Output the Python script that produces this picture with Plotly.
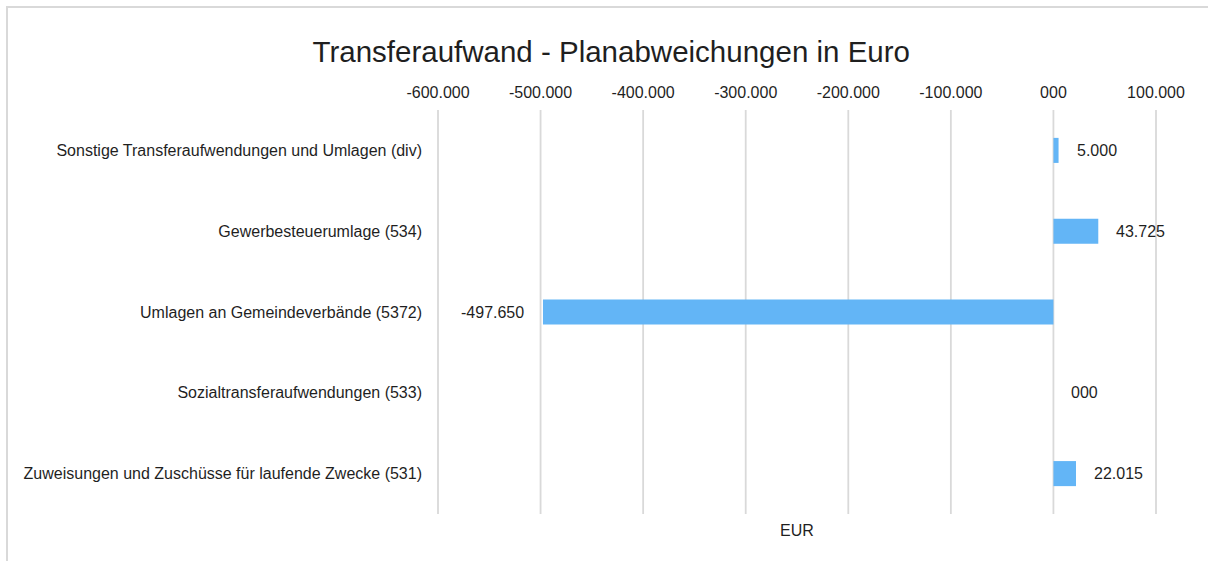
import plotly.graph_objects as go

categories = [
    "Sonstige Transferaufwendungen und Umlagen (div)",
    "Gewerbesteuerumlage (534)",
    "Umlagen an Gemeindeverbände (5372)",
    "Sozialtransferaufwendungen (533)",
    "Zuweisungen und Zuschüsse für laufende Zwecke (531)",
]
values = [5000, 43725, -497650, 0, 22015]
value_labels = ["5.000", "43.725", "-497.650", "000", "22.015"]

tick_vals = [-600000, -500000, -400000, -300000, -200000, -100000, 0, 100000]
tick_text = ["-600.000", "-500.000", "-400.000", "-300.000", "-200.000", "-100.000", "000", "100.000"]

FONT = "Liberation Sans, Arial, sans-serif"
TXT = "#1f1f1f"
BAR = "#63B5F6"
GRID = "#d9d9d9"

W, H = 1208, 561
# range padded by ~2px each side so the edge gridlines are fully drawn
PAD = 1950
X_MIN, X_MAX = -600000 - PAD, 100000 + PAD
ML, MT, MB = 436, 110, 47
PW = 722
MR = W - ML - PW
PH = H - MT - MB

fig = go.Figure()
fig.add_trace(go.Bar(
    x=values, y=categories, orientation="h",
    marker=dict(color=BAR, line=dict(width=0)),
    width=0.31, hoverinfo="skip",
))

annotations = []
for c, v, lab in zip(categories, values, value_labels):
    annotations.append(dict(
        x=v, y=c, xref="x", yref="y", text=lab, showarrow=False,
        xanchor="right" if v < 0 else "left",
        xshift=-17 if v < 0 else 16,
        font=dict(family=FONT, size=16, color=TXT),
    ))
annotations.append(dict(
    x=0.5, y=0, xref="paper", yref="paper", text="EUR", showarrow=False,
    xanchor="center", yanchor="top", yshift=-6,
    font=dict(family=FONT, size=16, color=TXT),
))

def px_to_paper_x(px):
    return (px - ML) / PW

def px_to_paper_y(py):
    return (H - MB - py) / PH

# outer chart frame: only its top and left edges fall inside the picture
shapes = [
    dict(type="line", xref="paper", yref="paper",
         x0=px_to_paper_x(6), x1=px_to_paper_x(W + 60),
         y0=px_to_paper_y(7), y1=px_to_paper_y(7),
         line=dict(color=GRID, width=2), layer="below"),
    dict(type="line", xref="paper", yref="paper",
         x0=px_to_paper_x(7), x1=px_to_paper_x(7),
         y0=px_to_paper_y(6), y1=px_to_paper_y(H + 60),
         line=dict(color=GRID, width=2), layer="below"),
]
for tv in tick_vals:
    shapes.append(dict(
        type="line", xref="x", yref="paper", x0=tv, x1=tv, y0=0, y1=1,
        line=dict(color=GRID, width=1.8), layer="below",
    ))

fig.update_layout(
    width=W, height=H,
    margin=dict(l=ML, r=MR, t=MT, b=MB, pad=0),
    paper_bgcolor="white", plot_bgcolor="white",
    showlegend=False,
    title=dict(
        text="Transferaufwand - Planabweichungen in Euro",
        x=0.506, xref="container", xanchor="center",
        y=1 - 52 / H, yref="container", yanchor="middle",
        font=dict(family=FONT, size=29.5, color=TXT),
    ),
    xaxis=dict(
        range=[X_MIN, X_MAX], side="top",
        tickmode="array", tickvals=tick_vals, ticktext=tick_text,
        showgrid=False,
        zeroline=False, showline=False, ticks="",
        ticklabelstandoff=8,
        tickfont=dict(family=FONT, size=16, color=TXT),
        fixedrange=True,
    ),
    yaxis=dict(
        autorange="reversed", showgrid=False, zeroline=False,
        showline=False, ticks="", ticklabelstandoff=13,
        tickfont=dict(family=FONT, size=16, color=TXT),
        fixedrange=True,
    ),
    annotations=annotations,
    shapes=shapes,
)

fig.write_html(
    "out.html",
    config={"displayModeBar": False},
    post_script="document.body.style.margin='0';",
)
